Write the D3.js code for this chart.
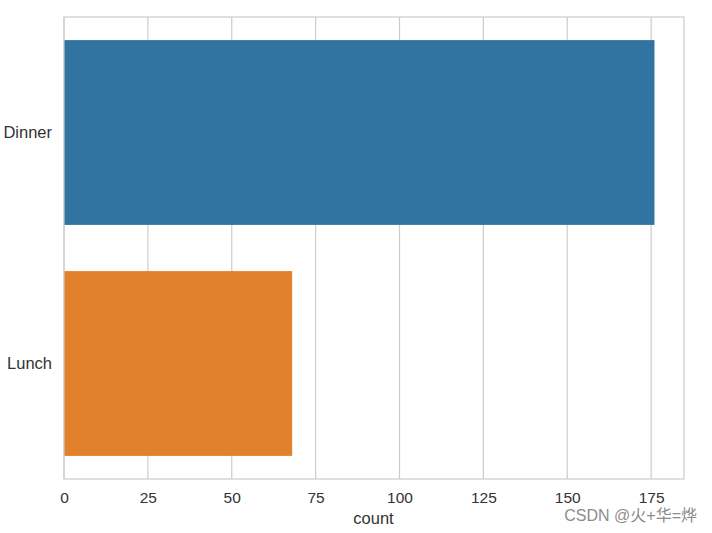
<!DOCTYPE html>
<html>
<head>
<meta charset="utf-8">
<script src="https://cdn.jsdelivr.net/npm/d3@7"></script>
<style>
body { margin: 0; background: #fff; }
text { font-family: "Liberation Sans", Arial, sans-serif; }
</style>
</head>
<body>
<svg id="chart" width="712" height="533"></svg>
<script>
const categories = ["Dinner", "Lunch"];
const counts = [176, 68];
const colors = ["#3274a1", "#e1812c"];
const xTicks = [0, 25, 50, 75, 100, 125, 150, 175];

const svg = d3.select("#chart");
const m = { left: 64, top: 17, right: 684, bottom: 479 };

const x = d3.scaleLinear().domain([0, 176 * 1.05]).range([m.left, m.right]);
const y = d3.scaleBand().domain(categories).range([m.top, m.bottom]).paddingInner(0.2).paddingOuter(0.1);

// grid
svg.append("g").selectAll("line").data(xTicks).join("line")
  .attr("x1", d => x(d)).attr("x2", d => x(d))
  .attr("y1", m.top).attr("y2", m.bottom)
  .attr("stroke", "#cccccc").attr("stroke-width", 1.2);

// bars
svg.append("g").selectAll("rect").data(categories).join("rect")
  .attr("x", x(0))
  .attr("y", d => y(d))
  .attr("width", (d, i) => x(counts[i]) - x(0))
  .attr("height", y.bandwidth())
  .attr("fill", (d, i) => colors[i]);

// frame
svg.append("rect")
  .attr("x", m.left).attr("y", m.top)
  .attr("width", m.right - m.left).attr("height", m.bottom - m.top)
  .attr("fill", "none").attr("stroke", "#cccccc").attr("stroke-width", 1.2);

// x tick labels
const xAxis = d3.axisBottom(x).tickValues(xTicks).tickSize(0).tickPadding(13);
const gx = svg.append("g").attr("transform", `translate(0,${m.bottom})`).call(xAxis);
gx.select(".domain").remove();
gx.selectAll("text").attr("fill", "#333333").style("font-size", "15.5px")
  .style("font-family", '"Liberation Sans", Arial, sans-serif');

// y tick labels
const yAxis = d3.axisLeft(y).tickSize(0).tickPadding(12);
const gy = svg.append("g").attr("transform", `translate(${m.left},0)`).call(yAxis);
gy.select(".domain").remove();
gy.selectAll("text").attr("fill", "#333333").style("font-size", "16.5px")
  .style("font-family", '"Liberation Sans", Arial, sans-serif');

// x label
svg.append("text").attr("x", (m.left + m.right) / 2 - 0.5).attr("y", 524)
  .attr("text-anchor", "middle").attr("fill", "#333333").style("font-size", "16.5px")
  .text("count");

// watermark
svg.append("text").attr("x", 697).attr("y", 521)
  .attr("text-anchor", "end").attr("fill", "#8c8c8c").style("font-size", "16px")
  .style("font-family", '"Liberation Sans", "Noto Sans CJK SC", sans-serif')
  .text("CSDN @火+华=烨");
</script>
</body>
</html>
